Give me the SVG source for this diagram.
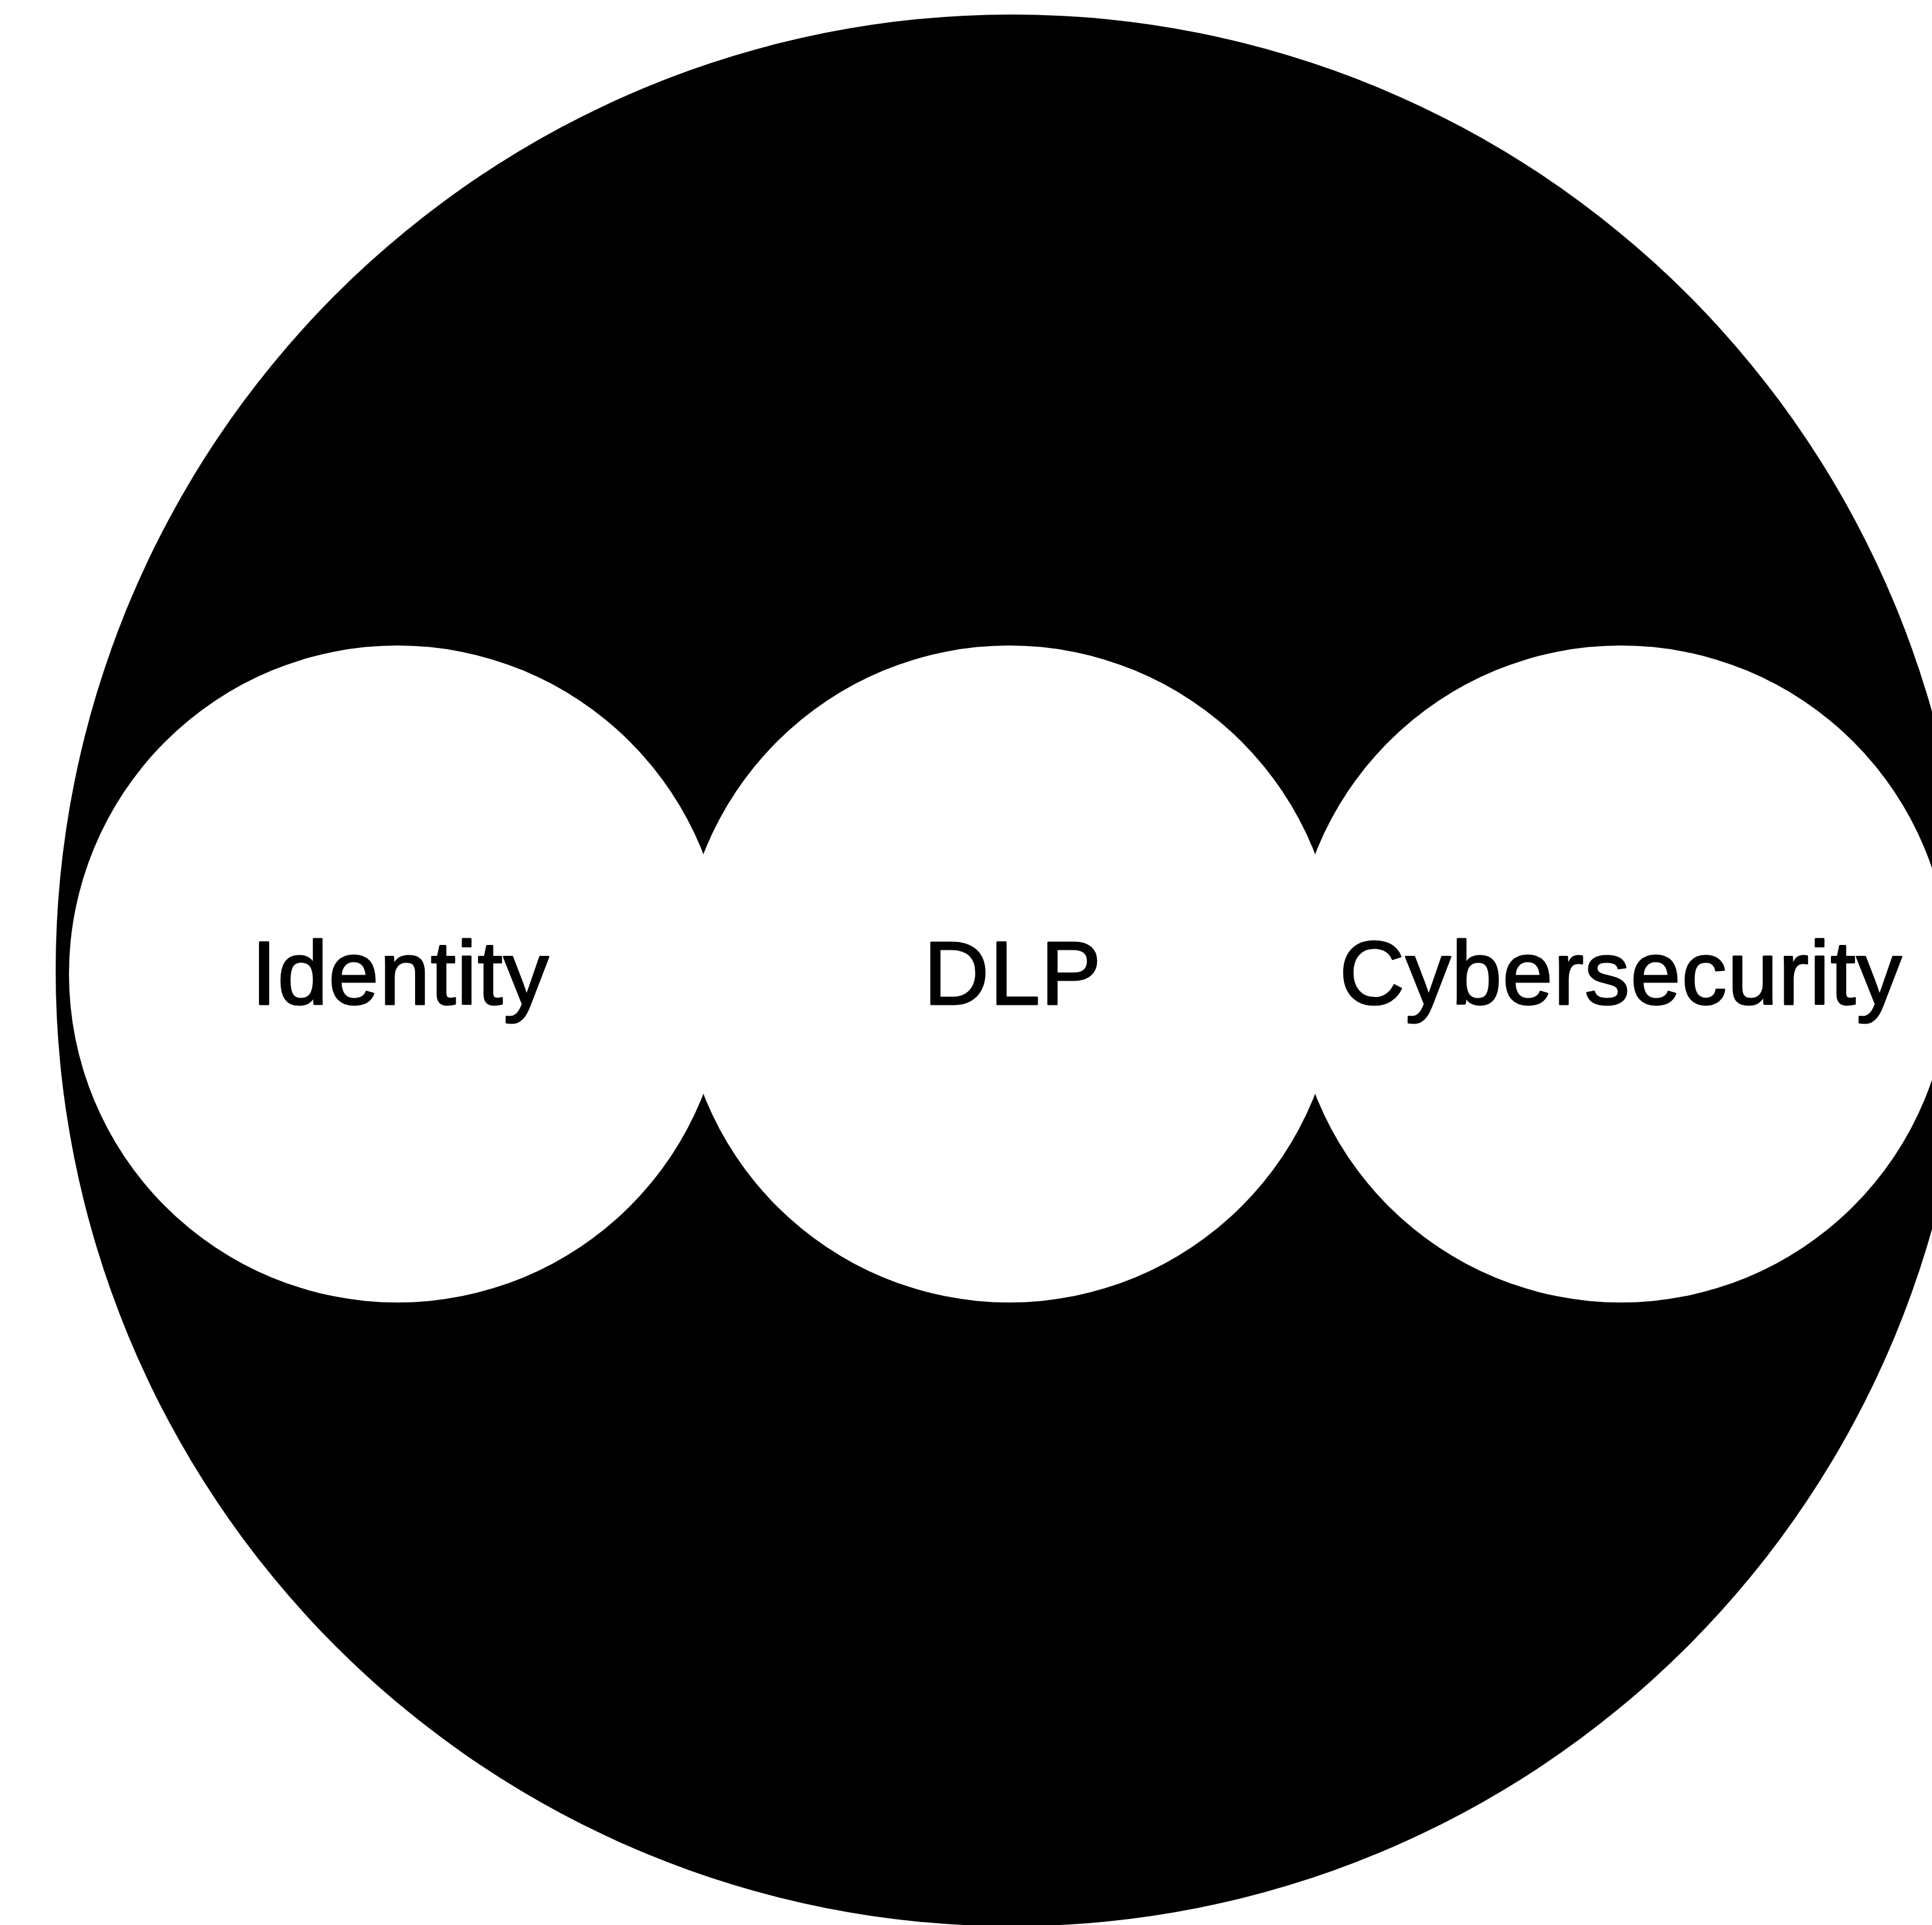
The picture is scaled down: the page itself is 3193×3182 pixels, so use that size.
<svg xmlns="http://www.w3.org/2000/svg" width="3193" height="3182" viewBox="0 0 3193 3182">
<style>
.w{fill:#fff}
.t{font-family:"Liberation Sans",Arial,sans-serif;font-size:149px;fill:#000;stroke:#000;stroke-width:3;stroke-linejoin:round;letter-spacing:1.5px;text-anchor:middle}
</style>
<rect width="3193" height="3182" fill="#fff"/>
<g id="outer"><circle cx="1672" cy="1604" r="1580" fill="#000"/></g>
<g id="identity"><circle class="w" cx="657" cy="1610" r="543"/><text class="t" x="662" y="1660">Identity</text></g>
<g id="dlp"><circle class="w" cx="1668" cy="1610" r="543"/><text class="t" x="1674" y="1660">DLP</text></g>
<g id="cyber"><circle class="w" cx="2679" cy="1610" r="543"/><text class="t" x="2679" y="1660">Cybersecurity</text></g>
<g id="connectors"></g>
</svg>
